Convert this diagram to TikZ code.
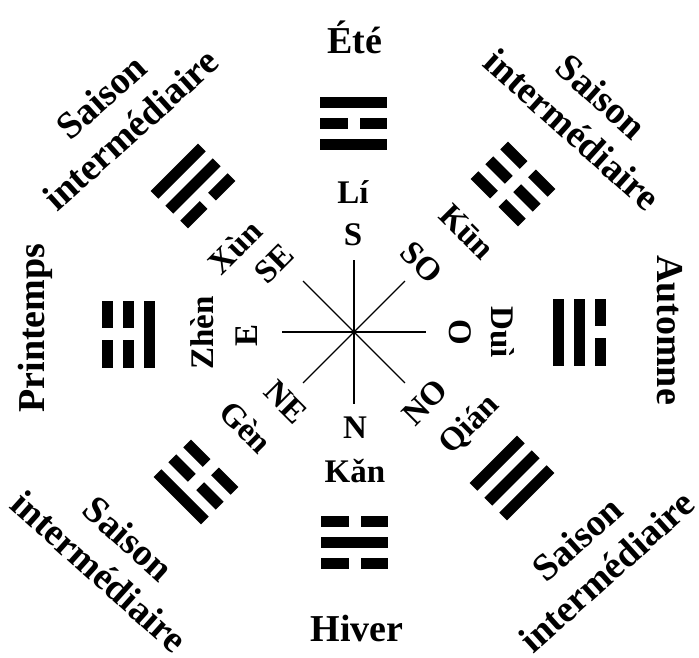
\documentclass[tikz,border=0pt]{standalone}
\usepackage{fontspec}
\setmainfont{Liberation Serif}
\newcommand\tgline[2]{%
  \ifnum#2=1
    \fill (-33.5,#1-5.5) rectangle (33.5,#1+5.5);
  \else
    \fill (-33.5,#1-5.5) rectangle (-6,#1+5.5);
    \fill (6,#1-5.5) rectangle (33.5,#1+5.5);
  \fi}
\newcommand\trigram[5]{%
  \begin{scope}[shift={#1},rotate=#2]
    \tgline{-21}{#3}\tgline{0}{#4}\tgline{21}{#5}
  \end{scope}}
\tikzset{
  outer/.style={font=\fontsize{38}{44}\selectfont\bfseries, inner sep=0pt, align=center},
  inlab/.style={font=\fontsize{33}{38}\selectfont\bfseries, inner sep=0pt},
  spoke/.style={line width=1.3pt}
}
\begin{document}
\begin{tikzpicture}[x=1pt,y=1pt]
\useasboundingbox (-354,-325) rectangle (345,332);
% spokes
\coordinate (c) at (0,0);
\foreach \a in {0,45,...,315}{
  \coordinate (e\a) at (\a:72);
  \draw[spoke] (c) -- (e\a);
}
% trigrams (inner line first)
\trigram{(0,209)}{0}{1}{0}{1}      % Li
\trigram{(1,-210)}{180}{0}{1}{0}   % Kan
\trigram{(-225,-2)}{90}{1}{0}{0}   % Zhen
\trigram{(225,0)}{-90}{1}{1}{0}    % Dui
\trigram{(-161,146)}{45}{0}{1}{1}  % Xun
\trigram{(159,148)}{-45}{0}{0}{0}  % Kun
\trigram{(-158,-150)}{135}{0}{0}{1}% Gen
\trigram{(158,-146)}{225}{1}{1}{1} % Qian
% seasons
\node[outer, anchor=base] (ete) at (1,279) {Été};
\node[outer, anchor=base] (hiver) at (3,-309) {Hiver};
\node[outer, rotate=90] (printemps) at (-319,4) {Printemps};
\node[outer, rotate=-90] (automne) at (316,2) {Automne};
\node[outer, rotate=42] (snw) at (-238,219) {Saison\\intermédiaire};
\node[outer, rotate=-42] (sne) at (233,219) {Saison\\intermédiaire};
\node[outer, rotate=-42] (ssw) at (-240,-223) {Saison\\intermédiaire};
\node[outer, rotate=42] (sse) at (238,-223) {Saison\\intermédiaire};
% inner labels
\node[inlab] (li) at (-1,140) {Lí};
\node[inlab] (s) at (-1,97) {S};
\node[inlab] (n) at (1,-96) {N};
\node[inlab, anchor=base] (kan) at (1,-150) {Kǎn};
\node[inlab, rotate=90] (e) at (-107,-3) {E};
\node[inlab, rotate=90] (zhen) at (-152,-1) {Zhèn};
\node[inlab, rotate=-90] (o) at (106,0) {O};
\node[inlab, rotate=-90] (dui) at (149,0) {Duì};
\node[inlab, rotate=45] (se) at (-80,68) {SE};
\node[inlab, rotate=45] (xun) at (-119,85) {Xùn};
\node[inlab, rotate=-45] (so) at (68,70) {SO};
\node[inlab, rotate=-45] (kun) at (113,100) {Kūn};
\node[inlab, rotate=-45] (ne) at (-68,-70) {NE};
\node[inlab, rotate=-45] (gen) at (-108,-95) {Gèn};
\node[inlab, rotate=45] (no) at (71,-70) {NO};
\node[inlab, rotate=45] (qian) at (116,-93) {Qián};
\end{tikzpicture}
\end{document}
